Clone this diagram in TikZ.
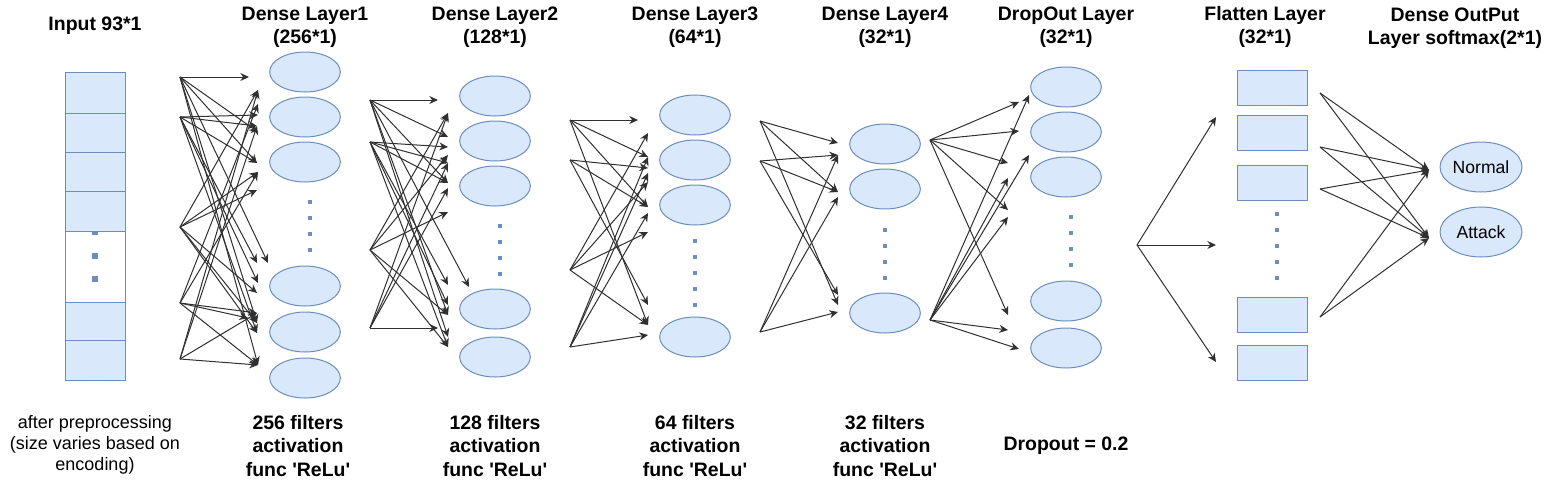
\documentclass[tikz,border=0pt]{standalone}
\usepackage{fontspec}
\setmainfont{Liberation Sans}
\usetikzlibrary{shapes, arrows.meta, positioning, calc}
\definecolor{nodefill}{HTML}{DAE8FC}
\definecolor{nodeline}{HTML}{6C8EBF}
\definecolor{wirecol}{HTML}{303030}
\newcommand{\relufunc}{func \textquotesingle ReLu\textquotesingle}
\tikzset{
  neuron/.style={ellipse, draw=nodeline, fill=nodefill, line width=0.75pt, minimum width=53pt, minimum height=30pt, inner sep=0pt},
  outneuron/.style={neuron, minimum width=61.5pt, minimum height=37.5pt, font=\fontsize{13.2}{16}\selectfont},
  flatbox/.style={rectangle, draw=nodeline, fill=nodefill, line width=0.75pt, minimum width=52.5pt, minimum height=26.25pt, inner sep=0pt},
  cellbox/.style={draw=nodeline, fill=nodefill, line width=0.75pt},
  dotsq/.style={rectangle, fill=nodeline, minimum size=3pt, inner sep=0pt},
  wire/.style={-{Stealth[length=6.5pt,width=6pt]}, draw=wirecol, line width=0.75pt},
  title/.style={font=\bfseries\fontsize{14.6}{17.5}\selectfont, align=center},
  note/.style={font=\fontsize{13.5}{16}\selectfont, align=center}
}

\begin{document}
\begin{tikzpicture}[x=0.75pt, y=-0.75pt]
\useasboundingbox (0,0) rectangle (1551,482);

% Input column
\draw[nodeline, line width=0.75pt] (65,231) rectangle (125,302);
\foreach \y [count=\i] in {232,256,279}
  \node[dotsq, minimum size=4.5pt] (in-dot\i) at (95,\y) {};
\foreach \a/\b in {72/113,113/152,152/191,191/231,302/340,340/380}
  \draw[cellbox] (65,\a) rectangle (125,\b);

% Dense layers
\foreach \y [count=\i] in {72,117,162,286,332,378}
  \node[neuron] (d1-\i) at (305,\y) {};
\foreach \y [count=\i] in {202,218,234,250}
  \node[dotsq] (d1-dot\i) at (310,\y) {};

\foreach \y [count=\i] in {96,141,186,309,357}
  \node[neuron] (d2-\i) at (495,\y) {};
\foreach \y [count=\i] in {226,242,258,274}
  \node[dotsq] (d2-dot\i) at (500,\y) {};

\foreach \y [count=\i] in {115,160,205,337}
  \node[neuron] (d3-\i) at (695,\y) {};
\foreach \y [count=\i] in {241,257,273,289,305}
  \node[dotsq] (d3-dot\i) at (695,\y) {};

\foreach \y [count=\i] in {144,189,313}
  \node[neuron] (d4-\i) at (885,\y) {};
\foreach \y [count=\i] in {230,246,262,278}
  \node[dotsq] (d4-dot\i) at (885,\y) {};

% Dropout layer
\foreach \y [count=\i] in {87,132,177,301,348}
  \node[neuron] (drop-\i) at (1066,\y) {};
\foreach \y [count=\i] in {217,233,249,265}
  \node[dotsq] (drop-dot\i) at (1071,\y) {};

% Flatten layer
\foreach \y [count=\i] in {88,133,183,315,363}
  \node[flatbox] (flat-\i) at (1272,\y) {};
\foreach \y [count=\i] in {214,230,246,262,278}
  \node[dotsq] (flat-dot\i) at (1277,\y) {};

% Output layer
\node[outneuron] (out1) at (1481,167) {Normal};
\node[outneuron] (out2) at (1481,232) {Attack};

% Input -> Dense Layer1
\foreach \n/\y in {a/77,b/117,c/227,d/303,e/359}
  \coordinate (g1\n) at (180,\y);
\foreach \n/\x/\y in {1/249/77,2/258/90,3/258/104,4/258/115,5/257/126,6/258/132,7/257/163,8/258/172,9/257/190,10/257/263,11/268/263,12/258/283,13/257/293,14/248/318,15/257/313,16/257/323,17/257/333,18/258/365}
  \coordinate (h1-\n) at (\x,\y);
\foreach \s/\t in {a/1,a/6,a/7,a/11,a/16,a/18,b/4,b/5,b/7,b/10,b/12,b/17,c/2,c/8,c/9,c/13,c/16,c/17,d/3,d/8,d/14,d/15,d/18,e/2,e/5,e/15,e/18}
  \draw[wire] (g1\s) -- (h1-\t);

% Dense Layer1 -> Dense Layer2
\foreach \n/\y in {a/100,b/142,c/250,d/328}
  \coordinate (g2\n) at (370,\y);
\foreach \n/\x/\y in {1/438/100,2/448/113,3/448/137,4/448/147,5/448/155,6/448/163,7/448/183,8/448/188,9/448/212,10/448/285,11/469/287,12/448/305,13/448/315,14/438/328,15/448/337,16/448/347}
  \coordinate (h2-\n) at (\x,\y);
\foreach \s/\t in {a/1,a/3,a/7,a/11,a/13,a/15,b/4,b/6,b/7,b/10,b/12,b/16,c/2,c/5,c/9,c/13,c/16,d/2,d/6,d/8,d/14}
  \draw[wire] (g2\s) -- (h2-\t);

% Dense Layer2 -> Dense Layer3
\foreach \n/\y in {a/120,b/160,c/270,d/347}
  \coordinate (g3\n) at (570,\y);
\foreach \n/\x/\y in {1/638/120,2/648/133,3/648/157,4/648/168,5/648/173,6/648/182,7/648/207,8/648/213,9/648/232,10/648/305,11/648/325,12/648/335}
  \coordinate (h3-\n) at (\x,\y);
\foreach \s/\t in {a/1,a/3,a/7,a/11,b/4,b/7,b/10,c/2,c/6,c/9,c/11,d/3,d/5,d/8,d/12}
  \draw[wire] (g3\s) -- (h3-\t);

% Dense Layer3 -> Dense Layer4
\foreach \n/\y in {a/121,b/161,c/332}
  \coordinate (g4\n) at (760,\y);
\foreach \n/\y in {1/143,2/155,3/192,4/197,5/295,6/305,7/312}
  \coordinate (h4-\n) at (838,\y);
\foreach \s/\t in {a/1,a/3,a/6,b/2,b/3,b/5,c/2,c/4,c/7}
  \draw[wire] (g4\s) -- (h4-\t);

% Dense Layer4 -> DropOut Layer
\foreach \n/\y in {a/140,b/320}
  \coordinate (g5\n) at (930,\y);
\foreach \n/\x/\y in {1/1019/102,2/1019/131,3/1008/163,4/1008/178,5/1008/210,6/1008/217,7/1029/95,8/1029/155,9/1008/315,10/1008/330,11/1019/349}
  \coordinate (h5-\n) at (\x,\y);
\foreach \s/\t in {a/1,a/2,a/3,a/5,a/9,b/4,b/6,b/7,b/8,b/10,b/11}
  \draw[wire] (g5\s) -- (h5-\t);

% DropOut Layer -> Flatten Layer
\coordinate (g6) at (1137,245);
\foreach \n/\y in {1/117,2/245,3/362}
  \coordinate (h6-\n) at (1216,\y);
\foreach \t in {1,2,3}
  \draw[wire] (g6) -- (h6-\t);

% Flatten Layer -> Output
\foreach \n/\y in {a/93,b/147,c/189,d/317}
  \coordinate (g7\n) at (1320,\y);
\coordinate (h7-1) at (1429,170);
\coordinate (h7-2) at (1429,238);
\foreach \s in {a,b,c,d}
  \foreach \t in {1,2}
    \draw[wire] (g7\s) -- (h7-\t);

% Titles
\node[title] (t0) at (95,26) {Input 93*1};
\node[title] (t1) at (305,27) {Dense Layer1\\(256*1)};
\node[title] (t2) at (495,27) {Dense Layer2\\(128*1)};
\node[title] (t3) at (695,27) {Dense Layer3\\(64*1)};
\node[title] (t4) at (885,27) {Dense Layer4\\(32*1)};
\node[title] (t5) at (1066,27) {DropOut Layer\\(32*1)};
\node[title] (t6) at (1265,27) {Flatten Layer\\(32*1)};
\node[title] (t7) at (1455,28) {Dense OutPut\\Layer softmax(2*1)};

% Notes below
\node[note] (n0) at (95,445) {after preprocessing\\(size varies based on\\encoding)};
\node[title] (n1) at (298,446) {256 filters\\activation\\\relufunc};
\node[title] (n2) at (495,446) {128 filters\\activation\\\relufunc};
\node[title] (n3) at (695,446) {64 filters\\activation\\\relufunc};
\node[title] (n4) at (885,446) {32 filters\\activation\\\relufunc};
\node[title] (n5) at (1066,446) {Dropout = 0.2};

\end{tikzpicture}
\end{document}
